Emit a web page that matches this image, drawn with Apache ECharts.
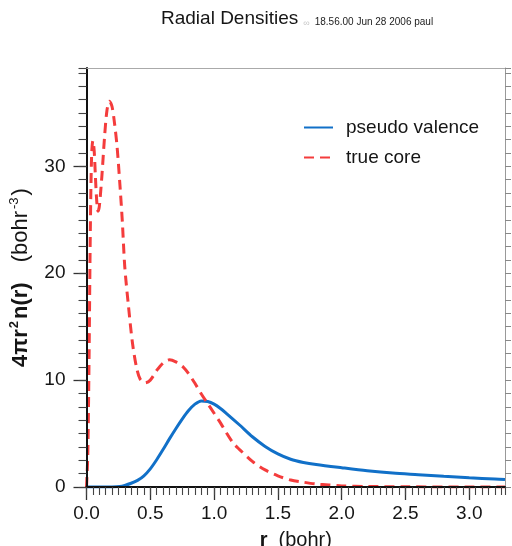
<!DOCTYPE html>
<html>
<head>
<meta charset="utf-8">
<script src="https://cdn.jsdelivr.net/npm/echarts@6/dist/echarts.min.js"></script>
<style>html,body{margin:0;padding:0;background:#fff}#c{width:512px;height:546px}</style>
</head>
<body>
<div id="c"></div>
<script>
// ---- data ----
const rValence = [0, 0.1, 0.2, 0.26, 0.3, 0.35, 0.4, 0.45, 0.5, 0.55, 0.6, 0.65, 0.7, 0.75, 0.8, 0.85, 0.9, 0.95, 1.0, 1.05, 1.1, 1.2, 1.3, 1.4, 1.5, 1.6, 1.7, 1.8, 2.0, 2.2, 2.4, 2.6, 2.8, 3.0, 3.2, 3.28];
const valence  = [0, 0, 0.01, 0.05, 0.15, 0.35, 0.62, 1.05, 1.7, 2.55, 3.5, 4.5, 5.45, 6.35, 7.15, 7.75, 8.05, 8.0, 7.75, 7.35, 6.85, 5.8, 4.7, 3.8, 3.1, 2.6, 2.3, 2.1, 1.8, 1.52, 1.3, 1.15, 1.0, 0.86, 0.75, 0.70];
const rCore = [0, 0.01, 0.02, 0.03, 0.04, 0.05, 0.06, 0.07, 0.08, 0.09, 0.10, 0.12, 0.14, 0.16, 0.18, 0.20, 0.22, 0.24, 0.26, 0.28, 0.30, 0.33, 0.36, 0.39, 0.42, 0.46, 0.50, 0.55, 0.60, 0.65, 0.70, 0.76, 0.80, 0.85, 0.90, 0.95, 1.0, 1.05, 1.1, 1.15, 1.2, 1.3, 1.4, 1.5, 1.6, 1.7, 1.8, 1.9, 2.0, 2.2, 2.5, 3.0, 3.28];
const core  = [0, 3, 12, 24, 31, 32.4, 31.5, 29, 26.8, 25.8, 26.2, 29, 32.5, 35.2, 36.1, 35.6, 34, 31.8, 28.6, 25, 20.6, 16.8, 13.5, 11.3, 10.1, 9.75, 10.0, 10.9, 11.6, 11.9, 11.7, 11.2, 10.6, 9.7, 8.7, 7.8, 6.9, 6.0, 5.0, 4.1, 3.5, 2.4, 1.6, 1.05, 0.65, 0.45, 0.28, 0.19, 0.1, 0.05, 0.02, 0, 0];
const seriesNames = ['pseudo valence', 'true core'];
const xRange = [0, 3.28];
const yRange = [0, 39.2];

const FONT = 'Liberation Sans';
const pair = (xs, ys) => xs.map((x, i) => [x, ys[i]]);

const chart = echarts.init(document.getElementById('c'), null, {renderer: 'canvas'});
chart.setOption({
  animation: false,
  backgroundColor: '#fff',
  title: {
    text: '{a|Radial Densities} {i|∞} {b|18.56.00 Jun 28 2006 paul}',
    left: 156, top: 4,
    textStyle: {
      fontWeight: 'normal',
      rich: {
        a: {fontFamily: FONT, fontSize: 19, fontWeight: 'normal', color: '#151515'},
        i: {fontFamily: FONT, fontSize: 9, fontWeight: 'normal', color: '#c8c8c8', verticalAlign: 'bottom'},
        b: {fontFamily: FONT, fontSize: 10, fontWeight: 'normal', color: '#222', verticalAlign: 'bottom', padding: [0, 0, 1, 0]}
      }
    }
  },
  legend: {
    orient: 'vertical', left: 298, top: 113,
    itemWidth: 29, itemHeight: 14, itemGap: 11,
    data: seriesNames,
    itemStyle: {opacity: 0},
    textStyle: {fontFamily: FONT, fontSize: 19, color: '#151515', padding: [0, 0, 0, 8]}
  },
  grid: {left: 86.5, right: 7, top: 68, bottom: 59, containLabel: false, outerBoundsMode: 'none'},
  xAxis: [
    {
      type: 'value', min: xRange[0], max: xRange[1], interval: 0.5, z: 5,
      name: '{b|r}{n|  (bohr)}', nameLocation: 'middle', nameGap: 43,
      nameTextStyle: {rich: {b: {fontFamily: FONT, fontSize: 20, fontWeight: 'bold', color: '#151515'}, n: {fontFamily: FONT, fontSize: 20, color: '#151515'}}},
      axisLine: {show: true, onZero: false, lineStyle: {color: '#111', width: 2}},
      axisTick: {show: true, inside: false, length: 13, lineStyle: {color: '#333', width: 1.3}},
      axisLabel: {fontFamily: FONT, fontSize: 19, color: '#151515', margin: 17, showMaxLabel: false,
        formatter: v => v.toFixed(1)},
      splitLine: {show: false}
    },
    {
      type: 'value', min: xRange[0], max: xRange[1], interval: 0.05, z: 5, position: 'bottom',
      axisLine: {show: false, onZero: false},
      axisTick: {show: true, inside: false, length: 8, lineStyle: {color: '#444', width: 1.1}},
      axisLabel: {show: false}, splitLine: {show: false}
    },
    {
      type: 'value', min: xRange[0], max: xRange[1], position: 'top', z: 5,
      axisLine: {show: true, onZero: false, lineStyle: {color: '#aaa', width: 1}},
      axisTick: {show: false}, axisLabel: {show: false}, splitLine: {show: false}
    }
  ],
  yAxis: [
    {
      type: 'value', min: yRange[0], max: yRange[1], interval: 10, z: 5, position: 'left',
      name: '{b|4πr}{s|2}{b|n(r)}{n|(bohr}{t|-3}{e|)}', nameLocation: 'middle', nameGap: 52,
      nameTextStyle: {rich: {
        b: {fontFamily: FONT, fontSize: 22, fontWeight: 'bold', color: '#151515', lineHeight: 27},
        s: {fontFamily: FONT, fontSize: 13, fontWeight: 'bold', color: '#151515', verticalAlign: 'top', padding: [0, 2, 0, 1]},
        n: {fontFamily: FONT, fontSize: 22, color: '#151515', lineHeight: 27, padding: [0, 1, 0, 20]},
        t: {fontFamily: FONT, fontSize: 13, color: '#151515', verticalAlign: 'top', padding: [0, 2, 0, 1]},
        e: {fontFamily: FONT, fontSize: 22, color: '#151515', lineHeight: 27}
      }},
      axisLine: {show: true, onZero: false, lineStyle: {color: '#111', width: 2}},
      axisTick: {show: true, inside: false, length: 13, lineStyle: {color: '#333', width: 1.3}},
      axisLabel: {fontFamily: FONT, fontSize: 19, color: '#151515', margin: 21, showMaxLabel: false},
      splitLine: {show: false}
    },
    {
      type: 'value', min: yRange[0], max: yRange[1], interval: 1.25, z: 5, position: 'left',
      axisLine: {show: false, onZero: false},
      axisTick: {show: true, inside: false, length: 8, lineStyle: {color: '#444', width: 1.1}},
      axisLabel: {show: false}, splitLine: {show: false}
    },
    {
      type: 'value', min: yRange[0], max: yRange[1], interval: 1.25, z: 5, position: 'right',
      axisLine: {show: true, onZero: false, lineStyle: {color: '#999', width: 1}},
      axisTick: {show: true, inside: false, length: 6, lineStyle: {color: '#888', width: 1}},
      axisLabel: {show: false}, splitLine: {show: false}
    }
  ],
  series: [
    {
      name: seriesNames[0], type: 'line', xAxisIndex: 0, yAxisIndex: 0, z: 2,
      data: pair(rValence, valence), showSymbol: false, symbol: 'none',
      smooth: 0.3,
      lineStyle: {color: '#1170c8', width: 3},
      itemStyle: {color: '#1170c8'}
    },
    {
      name: seriesNames[1], type: 'line', xAxisIndex: 0, yAxisIndex: 0, z: 2,
      data: pair(rCore, core), showSymbol: false, symbol: 'none',
      smooth: 0.3,
      lineStyle: {color: '#f43c3c', width: 3, type: [10, 6]},
      itemStyle: {color: '#f43c3c'}
    }
  ]
});
</script>
</body>
</html>
